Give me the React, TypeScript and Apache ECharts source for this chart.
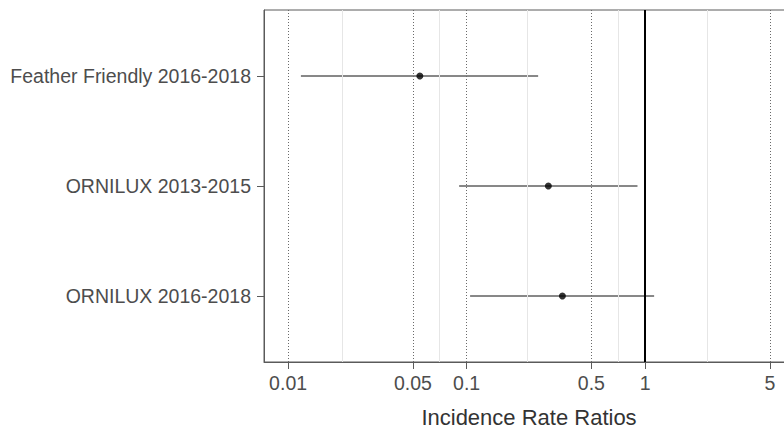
import React, { useEffect, useRef } from "react";
import * as echarts from "echarts";

const categories = ["Feather Friendly 2016-2018", "ORNILUX 2013-2015", "ORNILUX 2016-2018"];
const irr = [0.0547, 0.287, 0.344];
const lower = [0.0118, 0.0908, 0.1046];
const upper = [0.2516, 0.906, 1.123];
const majorBreaks = [0.01, 0.05, 0.1, 0.5, 1, 5];
const tickLabels = ["0.01", "0.05", "0.1", "0.5", "1", "5"];
const minorBreaks = [0.0224, 0.0707, 0.224, 0.707, 2.24];
const referenceValue = 1;
const xLimits = [0.00733, 6.82];

const FONT = "'Liberation Sans', Arial, Helvetica, sans-serif";

export default function App() {
  const ref = useRef<HTMLDivElement>(null);
  useEffect(() => {
    if (!ref.current) return;
    const chart = echarts.init(ref.current, null, { renderer: "svg" });
    const yPos = categories.map((_, i) => i + 1);
    const option: any = {
      animation: false,
      backgroundColor: "#ffffff",
      grid: {
        left: 264,
        right: 0,
        top: 10,
        bottom: 66,
        containLabel: false,
        outerBoundsMode: "none",
        show: true,
        borderColor: "#5a5a5a",
        borderWidth: 1,
        backgroundColor: "transparent",
      },
      xAxis: {
        type: "log",
        logBase: 10,
        min: xLimits[0],
        max: xLimits[1],
        name: "Incidence Rate Ratios",
        nameLocation: "middle",
        nameGap: 44,
        nameTextStyle: { fontFamily: FONT, fontSize: 22, color: "#333333" },
        axisLine: { show: true, lineStyle: { color: "#5a5a5a", width: 1 } },
        axisTick: { show: true, length: 7, customValues: majorBreaks, lineStyle: { color: "#5a5a5a" } },
        axisLabel: {
          customValues: majorBreaks,
          margin: 11,
          fontFamily: FONT,
          fontSize: 19.5,
          color: "#4d4d4d",
          formatter: (v: number) => {
            const idx = majorBreaks.findIndex((b) => Math.abs(b - v) / b < 1e-6);
            return idx >= 0 ? tickLabels[idx] : "";
          },
        },
        splitLine: { show: false },
        minorSplitLine: { show: false },
      },
      yAxis: {
        type: "value",
        min: 0.4,
        max: 3.6,
        inverse: true,
        axisLine: { show: true, lineStyle: { color: "#5a5a5a", width: 1 } },
        axisTick: { show: true, length: 7, customValues: yPos, lineStyle: { color: "#5a5a5a" } },
        axisLabel: {
          customValues: yPos,
          margin: 13,
          fontFamily: FONT,
          fontSize: 19.5,
          color: "#4d4d4d",
          formatter: (v: number) => categories[Math.round(v) - 1] ?? "",
        },
        splitLine: { show: false },
      },
      series: [
        {
          type: "scatter",
          data: [],
          silent: true,
          z: 1,
          markLine: {
            silent: true,
            symbol: "none",
            label: { show: false },
            lineStyle: { color: "#e6e6e6", width: 1, type: "solid" },
            data: minorBreaks.map((v) => ({ xAxis: v })),
          },
        },
        {
          type: "scatter",
          data: [],
          silent: true,
          z: 2,
          markLine: {
            silent: true,
            symbol: "none",
            label: { show: false },
            lineStyle: { color: "#6a6a6a", width: 1, type: [1, 2] },
            data: majorBreaks.map((v) => ({ xAxis: v })),
          },
        },
        {
          type: "custom",
          z: 3,
          silent: true,
          data: categories.map((_, i) => [lower[i], upper[i], yPos[i]]),
          encode: { x: [0, 1], y: 2 },
          renderItem: (params: any, api: any) => {
            const p1 = api.coord([api.value(0), api.value(2)]);
            const p2 = api.coord([api.value(1), api.value(2)]);
            return {
              type: "line",
              shape: { x1: p1[0], y1: p1[1], x2: p2[0], y2: p2[1] },
              style: { stroke: "#111111", lineWidth: 1 },
            };
          },
        },
        {
          type: "scatter",
          z: 4,
          silent: true,
          symbol: "circle",
          symbolSize: 7,
          itemStyle: { color: "#000000" },
          data: categories.map((_, i) => [irr[i], yPos[i]]),
          markLine: {
            silent: true,
            symbol: "none",
            label: { show: false },
            lineStyle: { color: "#000000", width: 2, type: "solid" },
            data: [{ xAxis: referenceValue }],
          },
        },
      ],
    };
    chart.setOption(option);
    return () => chart.dispose();
  }, []);
  return (
    <div
      ref={ref}
      style={{ position: "fixed", left: 0, top: 0, width: 794, height: 428 }}
    />
  );
}
